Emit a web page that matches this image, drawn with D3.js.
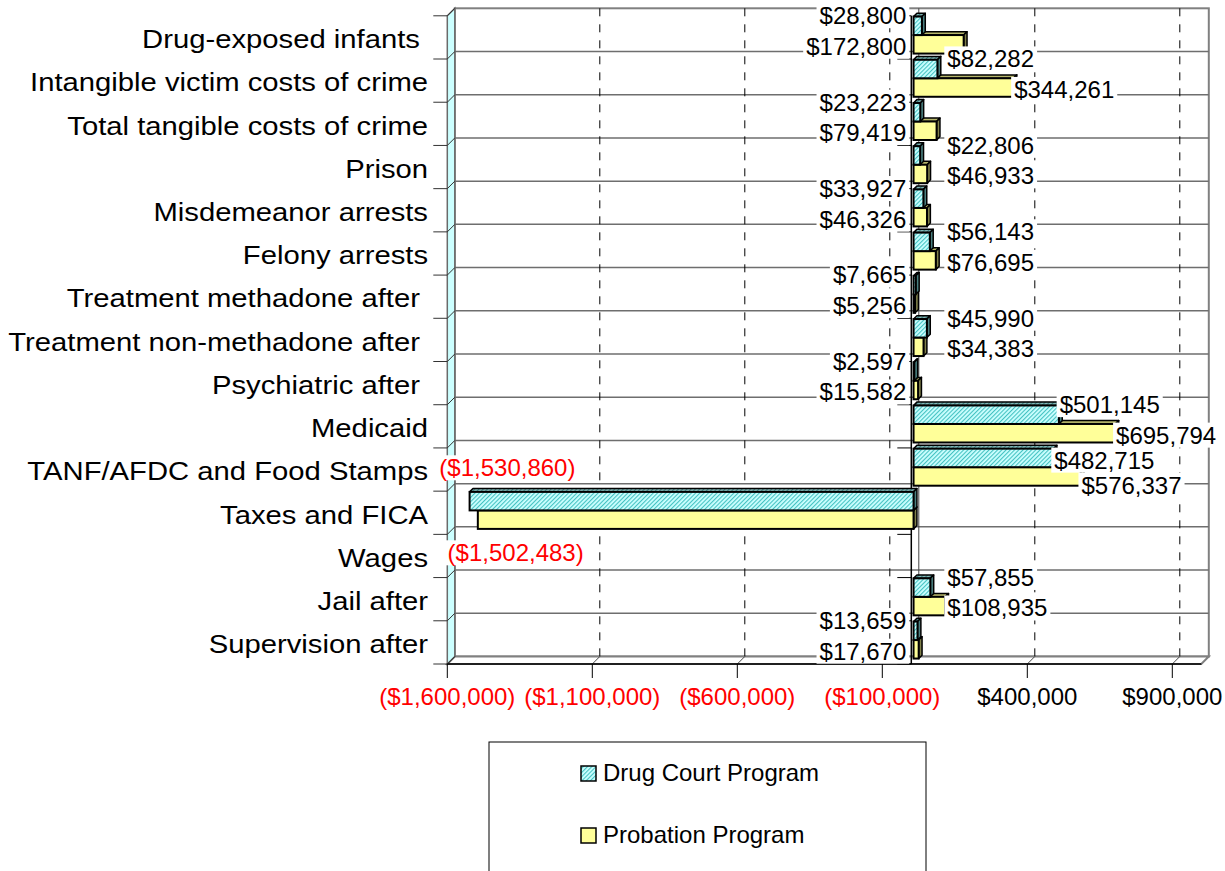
<!DOCTYPE html>
<html>
<head>
<meta charset="utf-8">
<script src="https://cdn.jsdelivr.net/npm/d3@7"></script>
<style>
    html, body { margin: 0; padding: 0; background: #fff; }
    svg { display: block; font-family: Arial, "Liberation Sans", sans-serif; }
</style>
</head>
<body>
<div id="chart"></div>
<script>
// categories top to bottom (trailing spaces are in the source labels)
const categories = ["Drug-exposed infants ", "Intangible victim costs of crime", "Total tangible costs of crime",
    "Prison", "Misdemeanor arrests", "Felony arrests", "Treatment methadone after ",
    "Treatment non-methadone after ", "Psychiatric after ", "Medicaid", "TANF/AFDC and Food Stamps",
    "Taxes and FICA", "Wages", "Jail after", "Supervision after"];

const seriesNames = ["Drug Court Program", "Probation Program"];

const drugCourt = [28800, 82282, 23223, 22806, 33927, 56143, 7665, 45990, 2597, 501145, 482715, -1530860, null, 57855, 13659];
const probation = [172800, 344261, 79419, 46933, 46326, 76695, 5256, 34383, 15582, 695794, 576337, -1502483, null, 108935, 17670];

const valueDomain = [-1600000, 1000000];
const tickValues = [-1600000, -1100000, -600000, -100000, 400000, 900000];

// ---------------------------------------------------------------
const width = 1225, height = 871;
const frame = { left: 447.3, right: 1201.3, top: 15.8, bottom: 664 };
const depth = { dx: 7.5, dy: 7.5 };   // front plane -> back wall offset
const zFront = 0.3, zBack = 0.75;      // bar depth inside the plot

const svg = d3.select("#chart").append("svg")
    .attr("width", width)
    .attr("height", height);

svg.append("rect").attr("width", width).attr("height", height).attr("fill", "#fff");

// hatch fills for the drug court series
const defs = svg.append("defs");
function hatch(id, bg, fg) {
    let p = defs.append("pattern")
        .attr("id", id)
        .attr("patternUnits", "userSpaceOnUse")
        .attr("width", 3).attr("height", 3)
        .attr("patternTransform", "rotate(45)");
    p.append("rect").attr("width", 3).attr("height", 3).attr("fill", bg);
    p.append("line").attr("x1", 0.5).attr("y1", 0).attr("x2", 0.5).attr("y2", 3)
        .attr("stroke", fg).attr("stroke-width", 1.2);
}
hatch("hatchFront", "#ccffff", "#45c2c2");
hatch("hatchTop", "#86b8b8", "#3d7f7f");

const fills = {
    "Drug Court Program": { front: "url(#hatchFront)", top: "url(#hatchTop)", end: "#4a7f7f" },
    "Probation Program": { front: "#ffff99", top: "#b5b56a", end: "#80804a" }
};

// scales
const x = d3.scaleLinear().domain(valueDomain).range([frame.left, frame.right]);
const y = d3.scaleBand().domain(categories).range([frame.top, frame.bottom]);
const ySub = d3.scaleBand().domain(seriesNames).range([3, y.bandwidth() - 3.2]);

const dollar = d3.format("$,");
const money = v => v < 0 ? "(" + dollar(-v) + ")" : dollar(v);

const backX = frame.right + depth.dx;
const backTop = frame.top - depth.dy, backBottom = frame.bottom - depth.dy;

// back wall
svg.append("rect")
    .attr("x", frame.left + depth.dx).attr("y", backTop)
    .attr("width", backX - frame.left - depth.dx).attr("height", backBottom - backTop)
    .attr("fill", "#fff").attr("stroke", "#808080").attr("stroke-width", 2);

// floor
svg.append("polygon")
    .attr("points", [[frame.left, frame.bottom], [frame.right, frame.bottom],
        [backX, backBottom], [frame.left + depth.dx, backBottom]].join(" "))
    .attr("fill", "#fff").attr("stroke", "#808080").attr("stroke-width", 2);

// left side wall
svg.append("polygon")
    .attr("points", [[frame.left, frame.top], [frame.left + depth.dx, backTop],
        [frame.left + depth.dx, backBottom], [frame.left, frame.bottom]].join(" "))
    .attr("fill", "#ccffff").attr("stroke", "#6a6a6a").attr("stroke-width", 1.5);

// category boundaries: front ticks, wall slants, back-wall gridlines
const bounds = categories.map(c => y(c)).concat([frame.bottom]);
bounds.forEach((b, i) => {
    if (i > 0 && i < bounds.length - 1) {
        svg.append("line")
            .attr("x1", frame.left + depth.dx).attr("x2", backX)
            .attr("y1", b - depth.dy).attr("y2", b - depth.dy)
            .attr("stroke", "#6e6e6e").attr("stroke-width", 1.5);
    }
    svg.append("line")
        .attr("x1", frame.left).attr("y1", b)
        .attr("x2", frame.left + depth.dx).attr("y2", b - depth.dy)
        .attr("stroke", "#333").attr("stroke-width", 1);
    svg.append("line")
        .attr("x1", frame.left - 14).attr("x2", frame.left)
        .attr("y1", b).attr("y2", b)
        .attr("stroke", "#333").attr("stroke-width", 1);
});

// dashed value gridlines on back wall, slants on floor
tickValues.forEach(t => {
    if (t > valueDomain[0]) {
        svg.append("line")
            .attr("x1", x(t) + depth.dx).attr("x2", x(t) + depth.dx)
            .attr("y1", backTop).attr("y2", backBottom)
            .attr("stroke", "#000").attr("stroke-width", 1)
            .attr("stroke-dasharray", "8,8");
    }
    svg.append("line")
        .attr("x1", x(t)).attr("y1", frame.bottom)
        .attr("x2", x(t) + depth.dx).attr("y2", backBottom)
        .attr("stroke", "#444").attr("stroke-width", 1);
});

// zero line on the back wall
svg.append("line")
    .attr("x1", x(0) + depth.dx).attr("x2", x(0) + depth.dx)
    .attr("y1", backTop).attr("y2", backBottom)
    .attr("stroke", "#444").attr("stroke-width", 1);

// category axis at value 0
svg.append("line")
    .attr("x1", x(0)).attr("x2", x(0))
    .attr("y1", frame.top).attr("y2", frame.bottom)
    .attr("stroke", "#000").attr("stroke-width", 1.5);
bounds.forEach(b => {
    svg.append("line")
        .attr("x1", x(0) - 14).attr("x2", x(0))
        .attr("y1", b).attr("y2", b)
        .attr("stroke", "#000").attr("stroke-width", 1);
});

// ---------------------------------------------------------------
// bars
const rows = [];
categories.forEach((c, i) => {
    rows.push({ cat: c, index: i, series: seriesNames[0], value: drugCourt[i] });
    rows.push({ cat: c, index: i, series: seriesNames[1], value: probation[i] });
});

const barGroup = svg.append("g").attr("class", "bars");
const ox = (zBack - zFront) * depth.dx, oy = (zBack - zFront) * depth.dy;

// draw bottom rows first so upper bars overlap the lower ones' top faces
rows.slice().reverse().filter(d => d.value !== null).forEach(d => {
    let h = ySub.bandwidth();
    let yf = y(d.cat) + ySub(d.series) - zFront * depth.dy;
    let xa = x(0) + zFront * depth.dx, xb = x(d.value) + zFront * depth.dx;
    let l = Math.min(xa, xb), r = Math.max(xa, xb);
    let f = fills[d.series];
    let g = barGroup.append("g");

    g.append("polygon")
        .attr("points", [[l, yf], [r, yf], [r + ox, yf - oy], [l + ox, yf - oy]].join(" "))
        .attr("fill", f.top).attr("stroke", "#000").attr("stroke-width", 1.5)
        .attr("stroke-linejoin", "round");
    g.append("polygon")
        .attr("points", [[r, yf], [r + ox, yf - oy], [r + ox, yf + h - oy], [r, yf + h]].join(" "))
        .attr("fill", f.end).attr("stroke", "#000").attr("stroke-width", 1.5)
        .attr("stroke-linejoin", "round");
    g.append("rect")
        .attr("x", l).attr("y", yf)
        .attr("width", Math.max(r - l, 0.5)).attr("height", h)
        .attr("fill", f.front).attr("stroke", "#000").attr("stroke-width", 2);
});

// front value axis
svg.append("line")
    .attr("x1", frame.left).attr("x2", frame.right)
    .attr("y1", frame.bottom).attr("y2", frame.bottom)
    .attr("stroke", "#000").attr("stroke-width", 1.5);

tickValues.forEach(t => {
    svg.append("line")
        .attr("x1", x(t)).attr("x2", x(t))
        .attr("y1", frame.bottom).attr("y2", frame.bottom + 14)
        .attr("stroke", "#000").attr("stroke-width", 1);
    svg.append("text")
        .attr("x", x(t)).attr("y", frame.bottom + 33)
        .attr("dy", "0.35em")
        .attr("text-anchor", "middle")
        .attr("font-size", 24)
        .attr("fill", t < 0 ? "#ff0000" : "#000")
        .text(money(t));
});

// category labels
categories.forEach(c => {
    svg.append("text")
        .attr("transform", "translate(428," + (y(c) + y.bandwidth() / 2 + 2) + ") scale(1.17,1)")
        .attr("dy", "0.35em")
        .attr("text-anchor", "end")
        .attr("font-size", 25)
        .style("white-space", "pre")
        .attr("fill", "#000")
        .text(c);
});

// ---------------------------------------------------------------
// value labels (white boxes like the source)
function labelPlace(d) {
    let h = ySub.bandwidth();
    let yf = y(d.cat) + ySub(d.series) - zFront * depth.dy;
    let first = d.series === seriesNames[0];
    if (d.value < 0) {
        return { x: x(d.value) - 28, y: first ? yf - 24 : yf + h + 24, anchor: "start" };
    }
    let ly = first ? yf + h / 2 - 10 : yf + h / 2 + 2;
    if (d.value >= 200000) return { x: x(d.value) + 3, y: ly, anchor: "start" };
    if (d.index % 2 === 0) return { x: x(0) - 5, y: ly, anchor: "end" };
    return { x: x(0) + 36, y: ly, anchor: "start" };
}

const labelGroup = svg.append("g").attr("class", "value-labels");
const placed = [];
rows.filter(d => d.value !== null).forEach(d => {
    let p = labelPlace(d);
    let g = labelGroup.append("g");
    let t = g.append("text")
        .attr("x", p.x).attr("y", p.y)
        .attr("dy", "0.35em")
        .attr("text-anchor", p.anchor)
        .attr("font-size", 24)
        .attr("fill", d.value < 0 ? "#ff0000" : "#000")
        .text(money(d.value));
    let bb = t.node().getBBox();
    let box = { x: bb.x - 3, y: bb.y + 1, w: bb.width + 6, h: bb.height - 2 };

    // push down below any earlier label it would collide with
    let moved = true;
    while (moved) {
        moved = false;
        placed.forEach(o => {
            if (box.x < o.x + o.w && o.x < box.x + box.w && box.y < o.y + o.h && o.y < box.y + box.h) {
                let shift = o.y + o.h - box.y;
                box.y += shift;
                p.y += shift;
                moved = true;
            }
        });
    }
    t.attr("y", p.y);
    placed.push(box);
    g.insert("rect", "text")
        .attr("x", box.x).attr("y", box.y)
        .attr("width", box.w).attr("height", box.h)
        .attr("fill", "#fff");
});

// ---------------------------------------------------------------
// legend
const legend = svg.append("g").attr("class", "legend");
legend.append("rect")
    .attr("x", 489).attr("y", 742)
    .attr("width", 437).attr("height", 140)
    .attr("fill", "#fff").attr("stroke", "#000").attr("stroke-width", 1);

seriesNames.forEach((s, i) => {
    let cy = 773 + i * 62;
    legend.append("rect")
        .attr("x", 581).attr("y", cy - 7)
        .attr("width", 15).attr("height", 15)
        .attr("fill", fills[s].front)
        .attr("stroke", "#000").attr("stroke-width", 1.5);
    legend.append("text")
        .attr("x", 603).attr("y", cy)
        .attr("dy", "0.35em")
        .attr("font-size", 24)
        .attr("fill", "#000")
        .text(s);
});
</script>
</body>
</html>
